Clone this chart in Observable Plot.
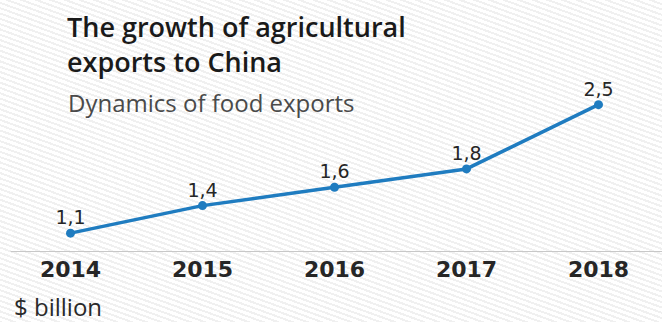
<!DOCTYPE html>
<html>
<head>
<meta charset="utf-8">
<script src="https://cdn.jsdelivr.net/npm/d3@7"></script>
<script src="https://cdn.jsdelivr.net/npm/@observablehq/plot@0.6"></script>
<style>
  html, body { margin: 0; padding: 0; }
  body { width: 662px; height: 322px; overflow: hidden; position: relative;
    background: repeating-linear-gradient(200deg, #ffffff 0 3px, #f0f0f0 3px 5px); }
  #chart { position: absolute; left: 0; top: 0; }
  .title { position: absolute; left: 67px; top: 9px; font-family: "Open Sans", sans-serif; font-weight: 600;
    font-size: 27px; line-height: 35px; color: #1a1a1a; white-space: nowrap; }
  .subtitle { position: absolute; left: 68px; top: 88px; font-family: "Open Sans", sans-serif; font-weight: 500;
    font-size: 24px; line-height: 30px; color: #4a4a4a; white-space: nowrap; }
  .unit { position: absolute; left: 14px; top: 292px; font-family: "Open Sans", sans-serif; font-weight: 500;
    font-size: 24px; line-height: 30px; color: #2a2a2a; white-space: nowrap; }
  svg [aria-label="x-axis tick label"] text { font-family: "DejaVu Sans", sans-serif; font-weight: bold; }
</style>
</head>
<body>
<div id="chart"></div>
<div class="title">The growth of agricultural<br>exports to China</div>
<div class="subtitle">Dynamics of food exports</div>
<div class="unit">$ billion</div>
<script>
const years = [2014, 2015, 2016, 2017, 2018];
const values = [1.1, 1.4, 1.6, 1.8, 2.5];
const labels = ["1,1", "1,4", "1,6", "1,8", "2,5"];

const data = years.map((y, i) => ({year: y, value: values[i], label: labels[i]}));

const chart = Plot.plot({
  width: 662,
  height: 322,
  marginLeft: 70,
  marginRight: 64,
  marginTop: 95,
  marginBottom: 71,
  style: {background: "transparent", overflow: "visible"},
  x: {domain: [2014, 2018]},
  y: {domain: [0.9, 2.6], axis: null},
  marks: [
    Plot.ruleY([0.9], {x1: 2013.55, x2: 2018.5, stroke: "#c8c8c8", strokeWidth: 1.2}),
    Plot.axisX({ticks: years, tickFormat: d => String(d), tickSize: 0, tickPadding: 10,
      fontSize: 22, fill: "#262626", stroke: null, label: null}),
    Plot.line(data, {x: "year", y: "value", stroke: "#1f7cc0", strokeWidth: 3.5}),
    Plot.dot(data, {x: "year", y: "value", r: 4.5, fill: "#1f7cc0"}),
    Plot.text(data, {x: "year", y: "value", text: "label", dy: -15, fontSize: 19,
      fontFamily: "DejaVu Sans, sans-serif", fill: "#262626"})
  ]
});
document.getElementById("chart").appendChild(chart);
</script>
</body>
</html>
